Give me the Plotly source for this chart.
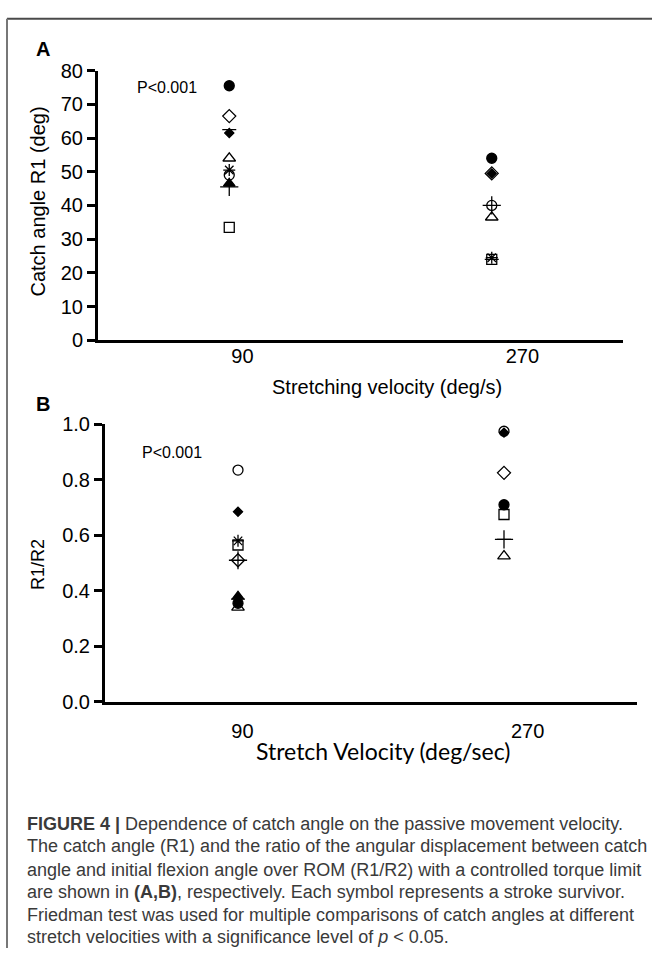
import plotly.graph_objects as go

W, H = 652, 959

# ---------------- data ----------------
velocities = [90, 270]
tick_labels = ["90", "270"]
symbols = ["circle", "diamond-open", "diamond", "line-ew-open", "triangle-up-open",
           "asterisk-open", "circle-open", "triangle-up", "cross-thin-open", "square-open"]
sizes = [10, 10, 7, 10, 11, 10, 10, 10, 13, 10]
r1_90 = [75.5, 66.5, 61.5, 62.5, 54.0, 50.5, 49.0, 46.5, 45.5, 33.5]
r1_270 = [54.0, 49.5, 49.5, 24.0, 36.5, 24.5, 40.0, None, 40.0, 24.0]
ratio_90 = [0.355, 0.51, 0.685, 0.37, 0.34, 0.58, 0.835, 0.38, 0.51, 0.565]
ratio_270 = [0.71, 0.825, 0.97, 0.585, 0.525, None, 0.975, None, 0.585, 0.675]
y_ticks_a = [0, 10, 20, 30, 40, 50, 60, 70, 80]
y_ticks_b = [0.0, 0.2, 0.4, 0.6, 0.8, 1.0]
y_ticktext_b = ["0.0", "0.2", "0.4", "0.6", "0.8", "1.0"]

caption_lines = [
    "<b>FIGURE 4 |</b> Dependence of catch angle on the passive movement velocity.",
    "The catch angle (R1) and the ratio of the angular displacement between catch",
    "angle and initial flexion angle over ROM (R1/R2) with a controlled torque limit",
    "are shown in <b>(A,B)</b>, respectively. Each symbol represents a stroke survivor.",
    "Friedman test was used for multiple comparisons of catch angles at different",
    "stretch velocities with a significance level of <i>p</i> &lt; 0.05.",
]

# ---------------- helpers ----------------
def px(x):
    return x / W

def py(y):
    return 1 - y / H

fig = go.Figure()

for i, sym in enumerate(symbols):
    fig.add_trace(go.Scatter(
        x=velocities, y=[r1_90[i], r1_270[i]], mode="markers",
        marker=dict(symbol=sym, size=sizes[i], color="black",
                    line=dict(color="black", width=1.3)),
        xaxis="x", yaxis="y", showlegend=False, hoverinfo="skip"))
    fig.add_trace(go.Scatter(
        x=velocities, y=[ratio_90[i], ratio_270[i]], mode="markers",
        marker=dict(symbol=sym, size=sizes[i], color="black",
                    line=dict(color="black", width=1.3)),
        xaxis="x2", yaxis="y2", showlegend=False, hoverinfo="skip"))

arial = "Liberation Sans, Arial, sans-serif"
tick_font = dict(family=arial, size=20, color="black")

fig.update_layout(
    width=W, height=H, autosize=False,
    margin=dict(l=0, r=0, t=0, b=0),
    paper_bgcolor="white", plot_bgcolor="white",
    xaxis=dict(domain=[px(98), px(623)], range=[0, 360], anchor="y",
               showline=True, linecolor="black", linewidth=3,
               showgrid=False, zeroline=False,
               tickvals=[99, 291], ticktext=tick_labels,
               ticks="", ticklabelstandoff=-4,
               tickfont=tick_font),
    yaxis=dict(domain=[py(337), py(61)], range=[0, 80], anchor="x",
               showline=True, linecolor="black", linewidth=3,
               showgrid=False, zeroline=False,
               tickvals=y_ticks_a, ticks="outside", ticklen=8, tickwidth=2.5,
               tickcolor="black", tickfont=tick_font),
    xaxis2=dict(domain=[px(105), px(637)], range=[0, 360], anchor="y2",
                showline=True, linecolor="black", linewidth=3,
                showgrid=False, zeroline=False,
                tickvals=[93, 286], ticktext=tick_labels,
                ticks="outside", ticklen=9, tickcolor="rgba(0,0,0,0)",
                tickfont=tick_font),
    yaxis2=dict(domain=[py(707), py(423)], range=[0, 1.0], anchor="x2",
                showline=True, linecolor="black", linewidth=3,
                showgrid=False, zeroline=False,
                tickvals=y_ticks_b, ticktext=y_ticktext_b,
                ticks="outside", ticklen=8, tickwidth=2.5,
                tickcolor="black", tickfont=tick_font),
)

def note(text, x, y, size, family=arial, angle=0, xanchor="center", color="black"):
    return dict(text=text, x=px(x), y=py(y), xref="paper", yref="paper",
                xanchor=xanchor, yanchor="middle", textangle=angle,
                showarrow=False, font=dict(family=family, size=size, color=color))

ann = [
    note("<b>A</b>", 43, 39, 20),
    note("<b>B</b>", 43, 402, 20),
    note("P<0.001", 167, 78, 16),
    note("P<0.001", 172, 452, 16),
    note("Catch angle R1 (deg)", 38, 195, 20, angle=-90),
    note("R1/R2", 38, 567, 18, angle=-90),
    note("Stretching velocity (deg/s)", 387, 385, 20),
    note("Stretch Velocity (deg/sec)", 383, 757, 23, family="Lato, Open Sans, sans-serif"),
]

cap_y = [832, 855, 879, 902, 925, 948]
for line, yy in zip(caption_lines, cap_y):
    ann.append(note(line, 25, yy, 18, xanchor="left", color="#3a3a3a"))
fig.update_layout(annotations=ann)

fig.update_layout(shapes=[
    dict(type="line", xref="paper", yref="paper", x0=px(7), x1=1, y0=py(8), y1=py(8),
         line=dict(color="#4a4a4a", width=2)),
    dict(type="line", xref="paper", yref="paper", x0=px(7), x1=px(7), y0=py(8), y1=0,
         line=dict(color="#777777", width=2)),
])

fig.write_html("out.html", config={"displayModeBar": False},
               post_script="document.body.style.margin='0';document.body.style.overflow='hidden';")
